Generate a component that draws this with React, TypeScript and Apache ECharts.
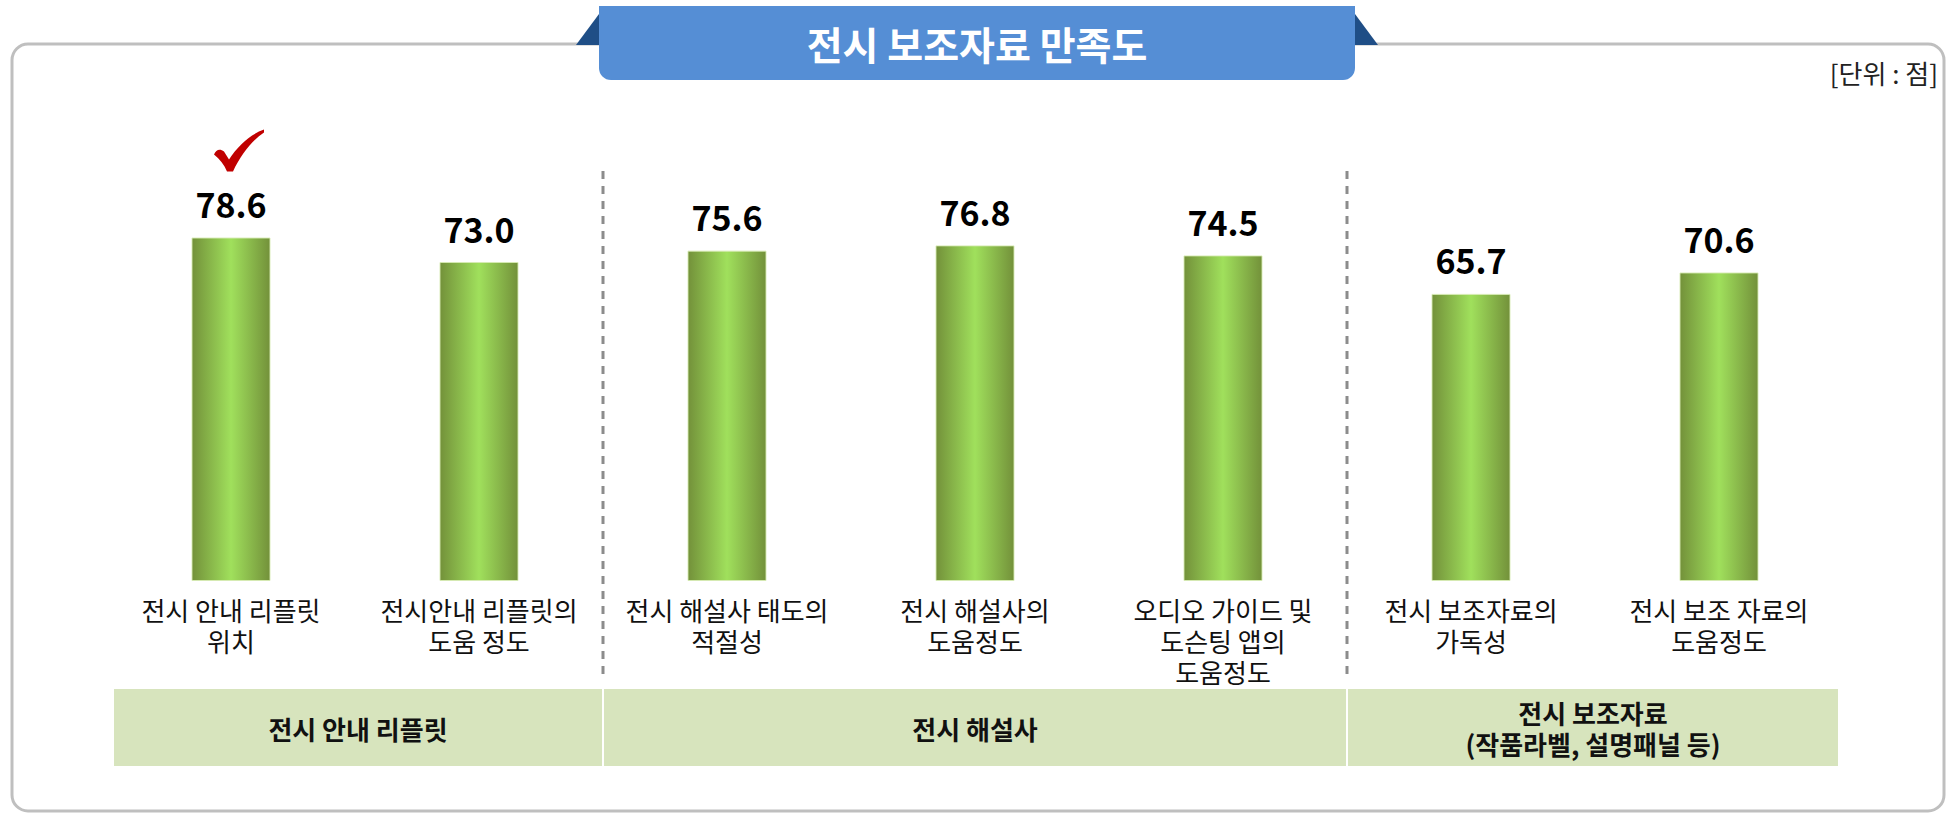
import React, { useEffect, useRef } from "react";
import * as echarts from "echarts";

// ---- data ----
const categories = [
  "전시 안내 리플릿\n위치",
  "전시안내 리플릿의\n도움 정도",
  "전시 해설사 태도의\n적절성",
  "전시 해설사의\n도움정도",
  "오디오 가이드 및\n도슨팅 앱의\n도움정도",
  "전시 보조자료의\n가독성",
  "전시 보조 자료의\n도움정도",
];
const values = [78.6, 73.0, 75.6, 76.8, 74.5, 65.7, 70.6];
const groupLabels = ["전시 안내 리플릿", "전시 해설사", "전시 보조자료\n(작품라벨, 설명패널 등)"];
const groupStart = [0, 2, 5];
const groupEnd = [1, 4, 6];
const highlightIndex = 0;
const titleText = "전시 보조자료 만족도";
const unitText = "[단위 : 점]";

const CHECK_D =
  "M 0 25 C 2 20 6 19 10 22 L 15 30 C 24 16 36 5 50 0 L 50 3 C 38 11 27 25 19 42 L 13 42 C 10 35 6 30 0 25 Z";
echarts.graphic.registerShape("checkmark", (echarts.graphic as any).extendPath(CHECK_D, {}));

const FONT = '"Noto Sans CJK KR", "Noto Sans", sans-serif';

export default function App() {
  const ref = useRef<HTMLDivElement>(null);
  useEffect(() => {
    document.body.style.margin = "0";
    const chart = echarts.init(ref.current!, null, { renderer: "svg" });
    chart.setOption({
      animation: false,
      backgroundColor: "#ffffff",
      grid: { left: 107, right: 111, top: 144, bottom: 238 },
      xAxis: {
        type: "category",
        data: categories,
        axisLine: { show: false },
        axisTick: { show: false },
        axisLabel: {
          interval: 0,
          margin: 13,
          fontSize: 26,
          lineHeight: 31,
          color: "#111111",
          fontFamily: FONT,
        },
      },
      yAxis: { type: "value", min: 0, max: 100, show: false },
      series: [
        {
          type: "bar",
          data: values,
          barWidth: 79,
          itemStyle: {
            color: new echarts.graphic.LinearGradient(0, 0, 1, 0, [
              { offset: 0, color: "#73913A" },
              { offset: 0.5, color: "#A0E05C" },
              { offset: 1, color: "#73913A" },
            ]),
            borderColor: "rgba(215,235,180,0.9)",
            borderWidth: 1,
          },
          label: {
            show: true,
            position: "top",
            distance: 17,
            formatter: (p: any) => Number(p.value).toFixed(1),
            fontSize: 34,
            fontWeight: "bold",
            color: "#000000",
            fontFamily: FONT,
          },
        },
      ],
    });

    const pt = (i: number, v: number) => chart.convertToPixel({ gridIndex: 0 }, [i, v]) as number[];
    const step = pt(1, 0)[0] - pt(0, 0)[0];
    const boundary = (i: number) => pt(i, 0)[0] - step / 2;
    const n = categories.length;

    const graphics: any[] = [];
    graphics.push({
      type: "rect",
      shape: { x: 12, y: 44, width: 1932, height: 767, r: 16 },
      style: { fill: "none", stroke: "#BFBFBF", lineWidth: 3 },
      z: 1,
    });
    graphics.push({
      type: "polygon",
      shape: { points: [[576, 45], [599, 14], [1355, 14], [1378, 45]] },
      style: { fill: "#1F4E86" },
      z: 2,
    });
    graphics.push({
      type: "rect",
      shape: { x: 599, y: 6, width: 756, height: 74, r: [0, 0, 12, 12] },
      style: { fill: "#558ED5" },
      z: 3,
    });
    graphics.push({
      type: "text",
      x: 977,
      y: 43,
      style: {
        text: titleText,
        fill: "#ffffff",
        font: `bold 39px ${FONT}`,
        align: "center",
        verticalAlign: "middle",
      },
      z: 4,
    });
    graphics.push({
      type: "text",
      x: 1938,
      y: 72,
      style: {
        text: unitText,
        fill: "#222222",
        font: `26px ${FONT}`,
        align: "right",
        verticalAlign: "middle",
      },
      z: 4,
    });
    for (let g = 0; g < groupLabels.length; g++) {
      const left = groupStart[g] === 0 ? boundary(0) + 7 : boundary(groupStart[g]) + 1;
      const right = groupEnd[g] === n - 1 ? boundary(n) - 5 : boundary(groupEnd[g] + 1) - 1;
      graphics.push({
        type: "rect",
        shape: { x: left, y: 689, width: right - left, height: 77 },
        style: { fill: "#D7E4BD" },
        z: 2,
      });
      graphics.push({
        type: "text",
        x: (left + right) / 2,
        y: 728,
        style: {
          text: groupLabels[g],
          fill: "#111111",
          font: `bold 26px ${FONT}`,
          lineHeight: 31,
          align: "center",
          verticalAlign: "middle",
        },
        z: 3,
      });
      if (g > 0) {
        const bx = boundary(groupStart[g]);
        graphics.push({
          type: "line",
          shape: { x1: bx, y1: 171, x2: bx, y2: 680 },
          style: { stroke: "#8C8C8C", lineWidth: 3, lineDash: [8, 7] },
          z: 2,
        });
      }
    }
    const top = pt(highlightIndex, values[highlightIndex]);
    graphics.push({
      type: "checkmark",
      x: top[0] - 17,
      y: top[1] - 108,
      style: { fill: "#C00000" },
      z: 5,
    });

    chart.setOption({ graphic: graphics });
    return () => chart.dispose();
  }, []);
  return <div ref={ref} style={{ width: 1954, height: 819, position: "absolute", left: 0, top: 0 }} />;
}
